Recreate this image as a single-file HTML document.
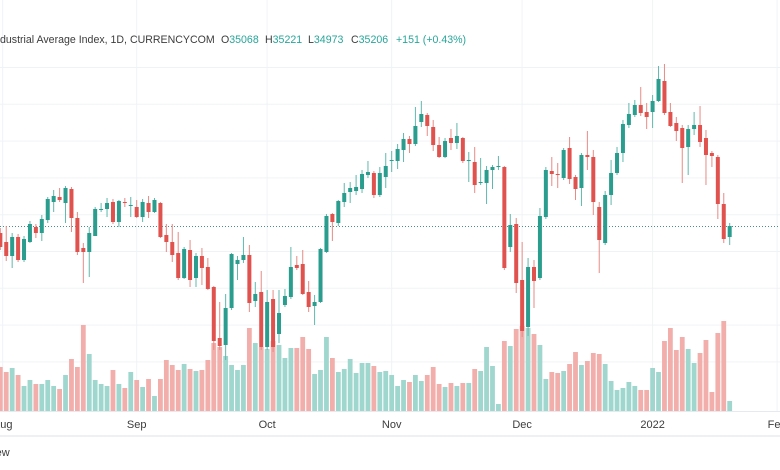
<!DOCTYPE html>
<html>
<head>
<meta charset="utf-8">
<style>
  html,body{margin:0;padding:0;background:#fff;}
  #wrap{position:relative;width:780px;height:470px;overflow:hidden;background:#fff;font-family:"Liberation Sans",sans-serif;}
  svg{position:absolute;left:0;top:0;}
  .hdr{position:absolute;top:34px;font-size:10.6px;color:#3c3c3c;white-space:nowrap;}
  .v{color:#26a69a;}
</style>
</head>
<body>
<div id="wrap">
  <svg id="chart" width="780" height="470"></svg>
  <div class="hdr" style="left:0px">dustrial Average Index, 1D, CURRENCYCOM</div>
  <div class="hdr" style="left:221px">O<span class="v">35068</span></div>
  <div class="hdr" style="left:265px">H<span class="v">35221</span></div>
  <div class="hdr" style="left:308px">L<span class="v">34973</span></div>
  <div class="hdr" style="left:351px">C<span class="v">35206</span></div>
  <div class="hdr v" style="left:396px">+151 (+0.43%)</div>
</div>
<script>
const opens=[35140,35050,34910,35100,34870,35050,35200,35140,35270,35450,35500,35440,35580,35290,34990,34950,35110,35370,35380,35450,35250,35450,35410,35400,35300,35440,35350,35440,35120,35050,34940,34690,34970,34690,34910,34800,34600,34090,34020,34390,34830,34870,34920,34460,34550,34000,34480,34130,34420,34500,34820,34830,34550,34410,34450,34950,35330,35240,35450,35550,35560,35580,35720,35740,35520,35700,35860,35860,35970,36080,36030,36250,36320,36200,36020,35900,36090,36040,36090,35860,35850,35640,35640,35770,35800,35800,35000,35230,34670,34200,34800,34690,35300,35760,35730,35690,35990,35700,35590,35920,35900,35400,35040,35520,35740,35940,36220,36320,36420,36350,36350,36460,36660,36350,36240,36190,36000,36180,36220,36090,35940,35900,35430,35100];
const highs=[35190,35210,35140,35130,35110,35260,35230,35320,35500,35570,35590,35610,35600,35350,35040,35200,35400,35440,35490,35480,35470,35490,35500,35470,35480,35510,35490,35450,35230,35230,35150,35000,35070,34940,34990,34890,34610,34450,34530,34940,34910,35100,35020,34650,34760,34570,34570,34570,34580,35000,34910,34970,34660,34520,34990,35330,35340,35470,35640,35650,35720,35770,35860,35760,35800,35940,35960,36030,36140,36110,36400,36460,36340,36270,36100,36090,36180,36240,36100,35950,36000,35890,35810,35820,35910,35810,35330,35290,35050,34890,34870,35390,35800,35900,35840,35990,36100,35720,35940,36160,35970,35450,35560,35870,36000,36270,36440,36470,36600,36440,36520,36810,36830,36440,36300,36220,36220,36350,36410,36170,35960,35920,35540,35240];
const lows=[34970,34860,34790,34850,34850,35040,35090,35060,35240,35350,35450,35240,35150,34920,34640,34700,35110,35350,35300,35230,35200,35400,35300,35290,35250,35290,35340,35090,34950,34850,34670,34680,34600,34600,34620,34570,33970,33970,33870,34370,34670,34840,34350,34400,33970,33970,33950,34040,34400,34480,34770,34520,34350,34220,34440,34940,35060,35210,35400,35440,35520,35540,35690,35490,35500,35590,35750,35780,35850,35940,36010,36200,36110,35960,35890,35890,35970,35980,35840,35650,35540,35620,35430,35580,35770,34770,34950,34540,34100,34110,34390,34670,35280,35610,35590,35670,35630,35470,35410,35770,35320,34740,35020,35420,35720,35850,36190,36300,36310,36180,36190,36450,36320,36200,36060,35640,35720,36120,36000,35620,35800,35280,35040,35020];
const closes=[35000,34910,35100,34870,35080,35230,35140,35280,35480,35510,35470,35590,35290,34950,34950,35140,35380,35380,35440,35250,35460,35440,35420,35300,35450,35350,35470,35100,35050,34920,34690,34980,34670,34910,34790,34580,34060,34010,34390,34930,34870,34920,34440,34530,34000,34450,34000,34340,34510,34800,34790,34530,34400,34450,34980,35310,35250,35460,35540,35590,35600,35730,35750,35520,35740,35810,35870,35980,36080,36030,36210,36330,36210,36020,35900,36060,36040,36110,35860,35870,35620,35650,35770,35800,35810,34790,35220,34640,34160,34800,34660,35310,35770,35730,35720,35970,35680,35580,35920,35900,35450,35070,35520,35740,35940,36230,36330,36420,36340,36300,36460,36680,36340,36210,36160,35990,36180,36220,36050,35920,35910,35430,35080,35210];
const volumes=[220,195,215,180,125,155,135,135,155,125,110,180,260,220,430,285,155,135,125,205,135,115,195,155,120,160,75,160,255,230,205,235,210,200,205,255,340,320,275,230,205,230,415,340,320,310,350,330,265,315,315,370,310,185,205,370,265,195,210,260,190,240,240,225,195,200,180,125,155,145,180,150,180,220,135,120,140,125,140,140,210,200,320,225,35,350,325,410,425,415,385,330,160,195,190,200,235,295,230,250,290,285,235,150,105,115,145,125,105,105,215,195,350,415,305,370,310,240,290,355,95,390,450,50];
const monthLabels=["Aug","Sep","Oct","Nov","Dec","2022","Feb"];
const monthIdx=[0.4,23,45,66,88,110,131];
const lastPrice=35210;

const NS="http://www.w3.org/2000/svg";
const svg=document.getElementById('chart');
function xs(i){return 5.93*i+0.3;}
function ys(p){return (37470-p)/10;}
function vs(v){return 411-v/5;}
function mk(tag,attrs){const e=document.createElementNS(NS,tag);for(const k in attrs)e.setAttribute(k,attrs[k]);svg.appendChild(e);return e;}

for(let p=36800;p>=33600;p-=368){
  const g=mk('line',{x1:0,x2:780,y1:ys(p)+0.5,y2:ys(p)+0.5,stroke:'#f0f3f6','stroke-width':1});
  
  
}
monthLabels.forEach((m,k)=>{
  const x=xs(monthIdx[k]);
  const g=mk('line',{x1:x,x2:x,y1:0,y2:411,stroke:'#f0f3f6','stroke-width':1});
  
  
  const t=mk('text',{x:x,y:428,'text-anchor':'middle','font-size':'11','fill':'#3c3c3c','font-family':'Liberation Sans, sans-serif'});
  t.textContent=m;
  
  
});
volumes.forEach((v,i)=>{
  const up=closes[i]>=opens[i];
  const r=mk('rect',{x:xs(i)-2.4,y:vs(v),width:4.8,height:411-vs(v),fill:up?'#9fd7cf':'#f2aeaa'});
  
  
});
const lp=mk('line',{x1:0,x2:780,y1:ys(lastPrice)+0.5,y2:ys(lastPrice)+0.5,stroke:'#4a8f86','stroke-width':1,'stroke-dasharray':'1,2'});


opens.forEach((o,i)=>{
  const c=closes[i];
  const up=c>=o;
  const col=up?'#2a9d8f':'#e0524e';
  const x=xs(i);
  const w=mk('line',{x1:x,x2:x,y1:ys(highs[i]),y2:ys(lows[i]),stroke:up?'#5fb8ad':'#e88a86','stroke-width':1});
  
  
  const top=ys(Math.max(o,c)),bot=ys(Math.min(o,c));
  const b=mk('rect',{x:x-2,y:top,width:4,height:Math.max(1,bot-top),fill:col});
  
  
});
const ax=mk('line',{x1:0,x2:780,y1:411.5,y2:411.5,stroke:'#e6e9ee','stroke-width':1});


const sep=mk('rect',{x:0,y:435,width:780,height:2,fill:'#eef0f3'});


const ft=mk('text',{x:-14,y:456,'font-size':'11','fill':'#3c3c3c','font-family':'Liberation Sans, sans-serif'});
ft.textContent='View';


</script>
</body>
</html>
